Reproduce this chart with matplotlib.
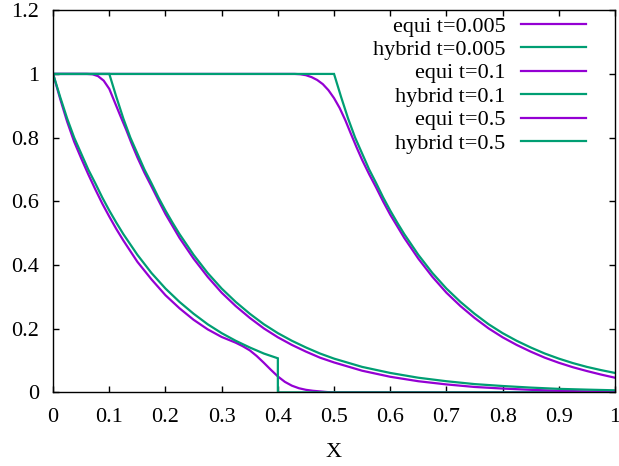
import matplotlib
matplotlib.use("Agg")
import matplotlib.pyplot as plt

plt.rcParams["font.family"] = ["Liberation Serif", "DejaVu Serif"]

PURPLE = "#9400D3"
GREEN = "#009E73"

# ---- t = 0.005 -------------------------------------------------------------
equi_005_x = [0.0, 0.0125, 0.025, 0.0375, 0.05, 0.0625, 0.075, 0.0875, 0.1, 0.1125,
              0.125, 0.15, 0.175, 0.2, 0.225, 0.25, 0.275, 0.3, 0.3125, 0.325,
              0.3375, 0.35, 0.3625, 0.375, 0.3875, 0.4, 0.4125, 0.425, 0.4375,
              0.45, 0.4625, 0.475, 0.4875, 0.5, 1.0]
equi_005_y = [1.0, 0.922, 0.85, 0.787, 0.735, 0.685, 0.638, 0.593, 0.552, 0.513,
              0.477, 0.41, 0.355, 0.305, 0.264, 0.228, 0.198, 0.174, 0.165, 0.156,
              0.145, 0.132, 0.114, 0.093, 0.071, 0.05, 0.033, 0.021, 0.013,
              0.008, 0.005, 0.003, 0.001, 0.0, 0.0]

hybrid_005_x = [0.0, 0.0125, 0.025, 0.0375, 0.05, 0.0625, 0.075, 0.0875, 0.1, 0.1125,
                0.125, 0.15, 0.175, 0.2, 0.225, 0.25, 0.275, 0.3, 0.325, 0.35,
                0.375, 0.4, 0.4, 1.0]
hybrid_005_y = [1.0, 0.928, 0.86, 0.80, 0.75, 0.70, 0.657, 0.612, 0.571, 0.533,
                0.497, 0.432, 0.375, 0.326, 0.284, 0.247, 0.214, 0.186, 0.162, 0.141,
                0.122, 0.107, 0.0, 0.0]

# ---- t = 0.1 ---------------------------------------------------------------
equi_01_x = [0.0, 0.06, 0.07, 0.08, 0.09, 0.1, 0.11, 0.12, 0.13, 0.14, 0.15, 0.1625,
             0.175, 0.1875, 0.2, 0.225, 0.25, 0.275, 0.3, 0.325, 0.35, 0.375, 0.4,
             0.425, 0.45, 0.475, 0.5, 0.55, 0.6, 0.65, 0.7, 0.75, 0.8, 0.85, 0.9,
             0.95, 1.0]
equi_01_y = [1.0, 1.0, 0.999, 0.993, 0.979, 0.953, 0.91, 0.867, 0.825, 0.78, 0.738,
             0.69, 0.647, 0.603, 0.560, 0.485, 0.420, 0.363, 0.313, 0.271, 0.234,
             0.201, 0.173, 0.149, 0.128, 0.109, 0.094, 0.068, 0.049, 0.035, 0.025,
             0.017, 0.012, 0.008, 0.005, 0.003, 0.002]

hybrid_01_x = [0.0, 0.1, 0.1125, 0.125, 0.1375, 0.15, 0.1625, 0.175, 0.1875, 0.2,
               0.2125, 0.225, 0.25, 0.275, 0.3, 0.325, 0.35, 0.375, 0.4, 0.425,
               0.45, 0.475, 0.5, 0.55, 0.6, 0.65, 0.7, 0.75, 0.8, 0.85, 0.9, 0.95,
               1.0]
hybrid_01_y = [1.0, 1.0, 0.928, 0.86, 0.80, 0.75, 0.70, 0.657, 0.612, 0.571,
               0.533, 0.497, 0.432, 0.375, 0.326, 0.284, 0.247, 0.214, 0.186, 0.162,
               0.141, 0.122, 0.106, 0.080, 0.061, 0.046, 0.035, 0.026, 0.020, 0.015,
               0.011, 0.0086, 0.0065]

# ---- t = 0.5 ---------------------------------------------------------------
equi_05_x = [0.0, 0.43, 0.44, 0.45, 0.46, 0.47, 0.48, 0.49, 0.5, 0.51, 0.52, 0.53,
             0.54, 0.55, 0.5625, 0.575, 0.5875, 0.6, 0.625, 0.65, 0.675, 0.7, 0.725,
             0.75, 0.775, 0.8, 0.825, 0.85, 0.875, 0.9, 0.925, 0.95, 0.975, 1.0]
equi_05_y = [1.0, 1.0, 0.999, 0.996, 0.990, 0.981, 0.968, 0.949, 0.924, 0.893, 0.855,
             0.812, 0.77, 0.73, 0.685, 0.643, 0.599, 0.558, 0.485, 0.420, 0.363,
             0.313, 0.271, 0.234, 0.201, 0.173, 0.149, 0.128, 0.109, 0.093, 0.079,
             0.067, 0.056, 0.046]

hybrid_05_x = [0.0, 0.5, 0.5125, 0.525, 0.5375, 0.55, 0.5625, 0.575, 0.5875, 0.6,
               0.6125, 0.625, 0.65, 0.675, 0.7, 0.725, 0.75, 0.775, 0.8, 0.825,
               0.85, 0.875, 0.9, 0.925, 0.95, 0.975, 1.0]
hybrid_05_y = [1.0, 1.0, 0.928, 0.86, 0.80, 0.75, 0.70, 0.657, 0.612, 0.571,
               0.533, 0.497, 0.432, 0.375, 0.326, 0.284, 0.247, 0.214, 0.186, 0.162,
               0.141, 0.122, 0.106, 0.092, 0.080, 0.070, 0.061]

series = [
    ("equi t=0.005", equi_005_x, equi_005_y, PURPLE),
    ("hybrid t=0.005", hybrid_005_x, hybrid_005_y, GREEN),
    ("equi t=0.1", equi_01_x, equi_01_y, PURPLE),
    ("hybrid t=0.1", hybrid_01_x, hybrid_01_y, GREEN),
    ("equi t=0.5", equi_05_x, equi_05_y, PURPLE),
    ("hybrid t=0.5", hybrid_05_x, hybrid_05_y, GREEN),
]

x_ticks = [0, 0.1, 0.2, 0.3, 0.4, 0.5, 0.6, 0.7, 0.8, 0.9, 1]
x_tick_labels = ["0", "0.1", "0.2", "0.3", "0.4", "0.5", "0.6", "0.7", "0.8", "0.9", "1"]
y_ticks = [0, 0.2, 0.4, 0.6, 0.8, 1.0, 1.2]
y_tick_labels = ["0", "0.2", "0.4", "0.6", "0.8", "1", "1.2"]

fig = plt.figure(figsize=(6.19, 4.66), dpi=100)
ax = fig.add_axes([0.0858, 0.158, 0.9077, 0.820])

for label, xs, ys, color in series:
    ax.plot(xs, ys, color=color, lw=1.6, label=label, solid_joinstyle="miter")

ax.set_xlim(0, 1)
ax.set_ylim(0, 1.2)
ax.set_xticks(x_ticks)
ax.set_xticklabels(x_tick_labels)
ax.set_yticks(y_ticks)
ax.set_yticklabels(y_tick_labels)
ax.tick_params(direction="in", length=4.5, width=1.0, top=True, right=True,
               labelsize=16)
ax.tick_params(axis="x", pad=11)
ax.tick_params(axis="y", pad=10)
for sp in ax.spines.values():
    sp.set_linewidth(1.0)

ax.set_xlabel("X", fontsize=16, labelpad=12)

leg = ax.legend(loc="upper right", bbox_to_anchor=(0.948, 0.985),
                frameon=False, markerfirst=False, fontsize=16,
                handlelength=2.9, handletextpad=0.72, labelspacing=0.13,
                borderpad=0.0, borderaxespad=0.0)

fig.savefig("out.png", dpi=100)
